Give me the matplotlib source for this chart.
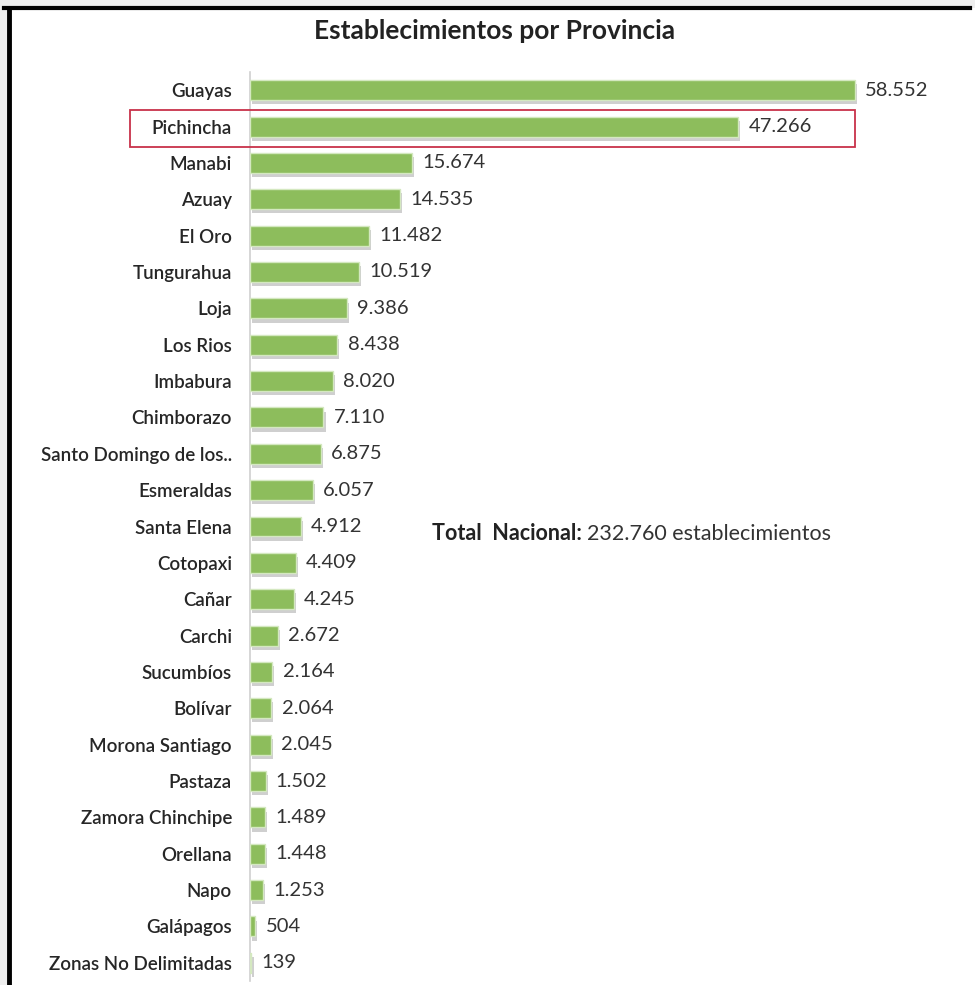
import matplotlib.pyplot as plt
import matplotlib.patheffects as pe
from matplotlib.lines import Line2D
from matplotlib.patches import Rectangle


provincias = [
    "Guayas", "Pichincha", "Manabi", "Azuay", "El Oro", "Tungurahua",
    "Loja", "Los Rios", "Imbabura", "Chimborazo", "Santo Domingo de los..",
    "Esmeraldas", "Santa Elena", "Cotopaxi", "Cañar", "Carchi",
    "Sucumbíos", "Bolívar", "Morona Santiago", "Pastaza",
    "Zamora Chinchipe", "Orellana", "Napo", "Galápagos",
    "Zonas No Delimitadas",
]

establecimientos = [
    58552, 47266, 15674, 14535, 11482, 10519, 9386, 8438, 8020, 7110,
    6875, 6057, 4912, 4409, 4245, 2672, 2164, 2064, 2045, 1502,
    1489, 1448, 1253, 504, 139,
]

total_nacional = "232.760"


def miles(v):
    return f"{v:,}".replace(",", ".")


plt.rcParams["font.family"] = ["Lato", "DejaVu Sans"]

fig = plt.figure(figsize=(9.75, 9.85), dpi=100, facecolor="#eeeeee")

# white page + black frame (screenshot look)
fig.patches.append(Rectangle((9 / 975, 0), 1, 1 - 8 / 985,
                             transform=fig.transFigure,
                             facecolor="white", edgecolor="none", zorder=-5))
fig.lines.append(Line2D([4 / 975, 970 / 975], [1 - 8 / 985, 1 - 8 / 985],
                        transform=fig.transFigure, color="black", lw=3))
fig.lines.append(Line2D([9 / 975, 9 / 975], [0, 1 - 8 / 985],
                        transform=fig.transFigure, color="black", lw=3.5))

ax = fig.add_axes([250 / 975, 4 / 985, 620 / 975, 909 / 985])
ax.set_facecolor("none")

y = list(range(len(provincias)))

bars = ax.barh(
    y,
    establecimientos,
    height=0.55,
    color="#8dbd5c",
    edgecolor="#d4e8c0",
    linewidth=1.0,
    zorder=3
)

for b in bars:
    b.set_path_effects([
        pe.SimplePatchShadow(offset=(1.5, -3), shadow_rgbFace="#a0a0a0",
                             alpha=0.5),
        pe.Normal()
    ])

ax.set_xlim(0, 60000)
ax.set_ylim(len(provincias) - 0.5, -0.5)

ax.set_yticks(y)
ax.set_yticklabels(provincias, fontsize=13.5, fontweight="semibold",
                   color="#262626")
ax.tick_params(axis="y", length=0, pad=13)
ax.set_xticks([])

for s in ["top", "right", "bottom"]:
    ax.spines[s].set_visible(False)
ax.spines["left"].set_color("#d0d0d0")
ax.spines["left"].set_linewidth(1.2)

for yi, v in zip(y, establecimientos):
    ax.text(v + 1000, yi, miles(v), va="center", ha="left",
            fontsize=14.5, color="#333333")

# highlight box around Pichincha
fig.patches.append(Rectangle((130 / 975, 1 - 147 / 985), 725 / 975,
                             37 / 985, transform=fig.transFigure,
                             fill=False, edgecolor="#c8324a",
                             linewidth=1.3, zorder=5))

fig.text(495 / 975, 1 - 31 / 985, "Establecimientos por Provincia",
         ha="center", va="center", fontsize=19, fontweight="bold",
         color="#222222")

t1 = fig.text(432 / 975, 1 - 534 / 985, "Total  Nacional:", ha="left",
              va="center", fontsize=15.5, fontweight="bold", color="#222222")
ax.annotate(total_nacional + " establecimientos",
            xy=(1, 0.5), xycoords=t1,
            xytext=(4, 0), textcoords="offset points",
            ha="left", va="center", fontsize=15.5, color="#333333",
            annotation_clip=False)

plt.savefig("out.png", dpi=100, facecolor=fig.get_facecolor())
